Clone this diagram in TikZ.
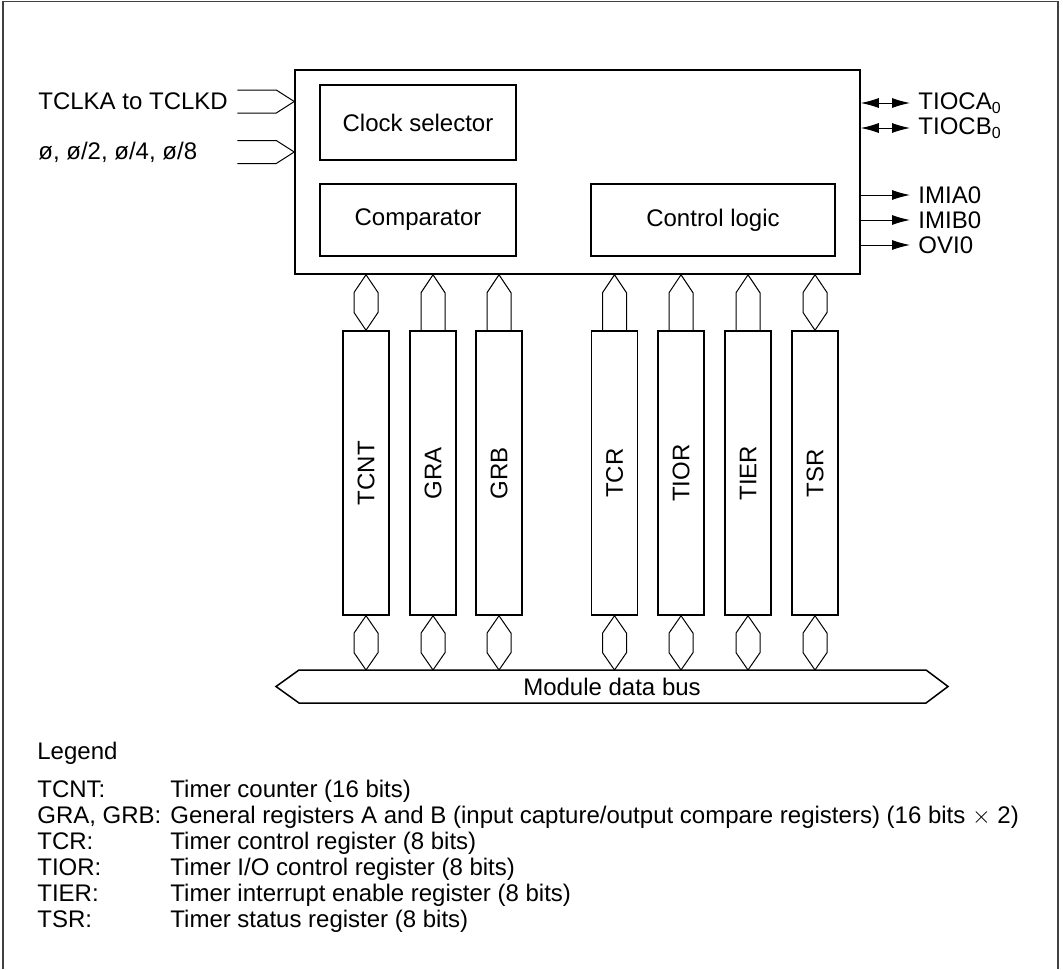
\documentclass[tikz,border=0pt]{standalone}
\usepackage{fontspec}
\setmainfont{Liberation Sans}
\usetikzlibrary{arrows.meta,calc}

\tikzset{
  blk/.style={draw, line width=0.75pt, inner sep=0pt},
  reg/.style={blk, minimum width=23pt, minimum height=142pt},
  link/.style={line width=0.5pt},
  sig/.style={link, -{Latex[length=9pt,width=5pt]}},
  dsig/.style={link, {Latex[length=9pt,width=5pt]}-{Latex[length=9pt,width=5pt]}},
  txt/.style={anchor=base west, inner sep=0pt}
}

% hexagon = two-way bus link, open arrow = one-way bus link
\newcommand\hexlink[2]{%
  \draw[link] (#1) -- ($(#1)!0.32!(#2)+(12,0)$) -- ($(#1)!0.68!(#2)+(12,0)$) -- (#2)
    -- ($(#1)!0.68!(#2)+(-12,0)$) -- ($(#1)!0.32!(#2)+(-12,0)$) -- cycle;}
\newcommand\uplink[2]{%
  \draw[link] ($(#1)+(-12,0)$) -- ($(#2)+(-12,18)$) -- (#2) -- ($(#2)+(12,18)$) -- ($(#1)+(12,0)$);}

\begin{document}
\begin{tikzpicture}[x=0.5pt, y=-0.5pt, font=\fontsize{12}{14}\selectfont]
    \useasboundingbox (0,0) rectangle (1063,969);
    \draw[line width=0.8pt, black!75] (3,969) -- (3,1.5) -- (1058,1.5) -- (1058,969);

    % Timer block
    \node[blk, minimum width=282.5pt, minimum height=102pt] (main) at (577.5,172) {};
    \node[blk, minimum width=98pt, minimum height=37.5pt] (clk) at (418,122.5) {Clock selector};
    \node[blk, minimum width=98pt, minimum height=36pt] (cmp) at (418,220) {Comparator};
    \node[blk, minimum width=122pt, minimum height=36pt] (ctl) at (713,220) {Control logic};

    % Clock inputs
    \node[anchor=west, inner sep=0pt] (tclk) at (38,101.5) {TCLKA to TCLKD};
    \node[anchor=west, inner sep=0pt] (phi) at (38,152) {ø, ø/2, ø/4, ø/8};
    \foreach \n in {tclk,phi} {
        \coordinate (\n-in) at (main.west |- \n);
        \draw[link] (\n-in) -- ++(-18,-11.5) -- ++(-39,0);
        \draw[link] (\n-in) -- ++(-18,11.5) -- ++(-39,0);
    }

    % Outputs
    \foreach \n/\y/\t in {tioca/103/TIOCA\textsubscript{0}, tiocb/128/TIOCB\textsubscript{0},
                          imia/195/IMIA0, imib/220/IMIB0, ovi/245/OVI0}
        \node[anchor=west, inner xsep=4pt, inner ysep=0pt] (\n) at (910,\y) {\t};
    \foreach \n in {tioca,tiocb} \draw[dsig] (main.east |- \n) -- (\n.west);
    \foreach \n in {imia,imib,ovi} \draw[sig] (main.east |- \n) -- (\n.west);

    % Registers
    \foreach \n/\x/\t in {tcnt/366/TCNT, gra/433/GRA, grb/499/GRB, tcr/614.5/TCR,
                          tior/681/TIOR, tier/748/TIER, tsr/815/TSR} {
        \node[reg] (\n) at (\x,473) {\rotatebox{90}{\t}};
        \coordinate (\n-t) at (\n.north |- main.south);
    }
    \foreach \n in {tcnt,tsr} \hexlink{\n-t}{\n.north};
    \foreach \n in {gra,grb,tcr,tior,tier} \uplink{\n.north}{\n-t};

    % Module data bus
    \node (bus) at (612,686.5) {Module data bus};
    \draw[blk] (276,686.5) -- (299,670) -- (926,670) -- (948,686.5) -- (926,703) -- (299,703) -- cycle;
    \coordinate (bustop) at (612,670);
    \foreach \n in {tcnt,gra,grb,tcr,tior,tier,tsr} \hexlink{\n.south}{\n.south |- bustop};

    % Legend
    \node[txt] (legend) at (37,759) {Legend};
    \foreach \k/\d [count=\i] in {TCNT:/{Timer counter (16 bits)},
        {GRA, GRB:}/{General registers A and B (input capture/output compare registers) (16 bits $\times$ 2)},
        TCR:/{Timer control register (8 bits)},
        TIOR:/{Timer I/O control register (8 bits)},
        TIER:/{Timer interrupt enable register (8 bits)},
        TSR:/{Timer status register (8 bits)}} {
        \node[txt] (key\i) at (37,771+26*\i) {\k};
        \node[txt] (desc\i) at (170,771+26*\i) {\d};
    }
\end{tikzpicture}
\end{document}
